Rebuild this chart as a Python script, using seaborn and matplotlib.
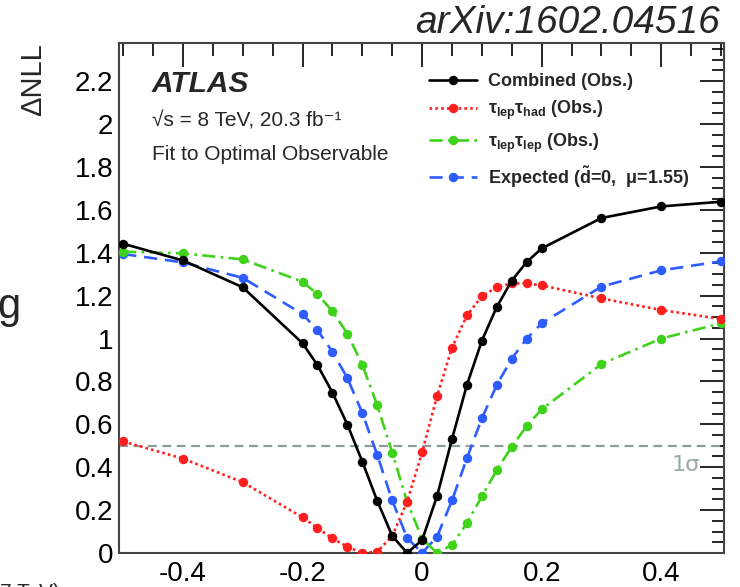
import numpy as np
import pandas as pd
import matplotlib
matplotlib.use("Agg")
import matplotlib.pyplot as plt
import seaborn as sns
from matplotlib.ticker import MultipleLocator, FixedLocator, FixedFormatter

sns.set_theme(style="white")
plt.rcParams['font.family'] = ['Liberation Sans', 'DejaVu Sans']
plt.rcParams['axes.unicode_minus'] = False
plt.rcParams['mathtext.fontset'] = 'custom'
plt.rcParams['mathtext.rm'] = 'Liberation Sans:bold'
plt.rcParams['mathtext.it'] = 'Liberation Sans:bold'
plt.rcParams['mathtext.bf'] = 'Liberation Sans:bold'

# ---- data ----
d_values = [-0.5, -0.4, -0.3, -0.2, -0.175, -0.15, -0.125, -0.1, -0.075, -0.05, -0.025,
            0.0, 0.025, 0.05, 0.075, 0.1, 0.125, 0.15, 0.175, 0.2, 0.3, 0.4, 0.5]
combined = [1.442, 1.364, 1.239, 0.978, 0.876, 0.748, 0.599, 0.426, 0.243, 0.08, 0.0,
            0.06, 0.265, 0.531, 0.784, 0.99, 1.148, 1.27, 1.357, 1.42, 1.562, 1.616, 1.638]
lephad = [0.52, 0.44, 0.33, 0.166, 0.117, 0.068, 0.029, 0.0, 0.006, 0.079, 0.239,
          0.469, 0.732, 0.957, 1.108, 1.197, 1.24, 1.257, 1.257, 1.248, 1.187, 1.133, 1.091]
leplep = [1.405, 1.397, 1.369, 1.265, 1.207, 1.127, 1.023, 0.877, 0.689, 0.468, 0.239,
          0.067, 0.0, 0.038, 0.139, 0.265, 0.387, 0.496, 0.592, 0.67, 0.881, 1.0, 1.071]
expected = [1.394, 1.355, 1.283, 1.114, 1.039, 0.938, 0.816, 0.653, 0.457, 0.245, 0.07,
            0.0, 0.076, 0.245, 0.442, 0.628, 0.784, 0.906, 1.0, 1.071, 1.242, 1.318, 1.36]

labels = ["Combined (Obs.)",
          r"$\tau_{lep}\tau_{had}$ (Obs.)",
          r"$\tau_{lep}\tau_{lep}$ (Obs.)",
          r"Expected ($\tilde{\mathrm{d}}$=0,  $\mu$=1.55)"]
series = [combined, lephad, leplep, expected]
colors = ["black", "#ff1f1f", "#3fd21a", "#2d5cff"]
styles = ["-", (0, (1, 1.2)), (0, (5, 2, 1, 2)), (0, (5, 3))]

y_ticks = [0, 0.2, 0.4, 0.6, 0.8, 1.0, 1.2, 1.4, 1.6, 1.8, 2.0, 2.2]
y_ticklabels = ["0", "0.2", "0.4", "0.6", "0.8", "1", "1.2", "1.4", "1.6", "1.8", "2", "2.2"]
x_ticks = [-0.4, -0.2, 0.0, 0.2, 0.4]
x_ticklabels = ["-0.4", "-0.2", "0", "0.2", "0.4"]

fig = plt.figure(figsize=(7.4, 5.87), dpi=100)
ax = fig.add_axes([119/740, 1-553/587, (724-119)/740, (553-43)/587])

# 1 sigma line
ax.axhline(0.5, color="#8c9c9a", ls=(0, (4, 2.5)), lw=1.6, zorder=1)
ax.text(0.465, 0.41, "1σ", color="#9aa8a6", fontsize=16, ha="right", va="center",
        family="DejaVu Sans")

order = [3, 2, 1, 0]
for i in order:
    df = pd.DataFrame({"d": d_values, "nll": series[i]})
    sns.lineplot(data=df, x="d", y="nll", ax=ax, color=colors[i], linestyle=styles[i],
                 lw=1.9, marker="o", markersize=6.8, markeredgewidth=0,
                 label=labels[i], sort=False, zorder=3 + (3 - i))

h, l = ax.get_legend_handles_labels()
hmap = dict(zip(l, h))
leg = ax.legend([hmap[x] for x in labels], labels, frameon=False,
                loc="upper left", bbox_to_anchor=(0.50, 0.955),
                fontsize=13, handlelength=2.7, handletextpad=0.6,
                labelspacing=0.5, borderaxespad=0)
for t in leg.get_texts():
    t.set_fontweight("bold")

ax.set_xlim(-0.507, 0.505)
ax.set_ylim(0, 2.378)
ax.set_xlabel("")
ax.set_ylabel("ΔNLL", fontsize=21, loc="top", labelpad=20)

ax.xaxis.set_major_locator(FixedLocator(x_ticks))
ax.xaxis.set_major_formatter(FixedFormatter(x_ticklabels))
ax.xaxis.set_minor_locator(MultipleLocator(0.05))
ax.yaxis.set_major_locator(FixedLocator(y_ticks))
ax.yaxis.set_major_formatter(FixedFormatter(y_ticklabels))
ax.yaxis.set_minor_locator(MultipleLocator(0.05))

ax.tick_params(which="both", direction="in", top=True, right=True, colors="black")
ax.tick_params(which="major", length=17, width=1.2, labelsize=20)
ax.tick_params(which="minor", length=9, width=1.2)
ax.tick_params(axis="x", which="major", pad=6)
ax.tick_params(axis="y", which="major", pad=4)
for s in ax.spines.values():
    s.set_color("#444444")
    s.set_linewidth(1.5)

ax.text(0.054, 0.92, "ATLAS", transform=ax.transAxes, fontsize=21.5,
        fontweight="bold", style="italic", va="center")
ax.text(0.054, 0.848, "√s = 8 TeV, 20.3 fb⁻¹", transform=ax.transAxes,
        fontsize=15, va="center")
ax.text(0.054, 0.782, "Fit to Optimal Observable", transform=ax.transAxes,
        fontsize=15, va="center")

fig.text(720/740, 1-33/587, "arXiv:1602.04516", fontsize=28, style="italic",
         ha="right", va="baseline")
fig.text(-0.004, 1-318/587, "g", fontsize=30, ha="left", va="baseline")
fig.text(-0.01, 1-598/587, "(7 TeV)", fontsize=15, ha="left", va="baseline")

fig.savefig("out.png", dpi=100)
